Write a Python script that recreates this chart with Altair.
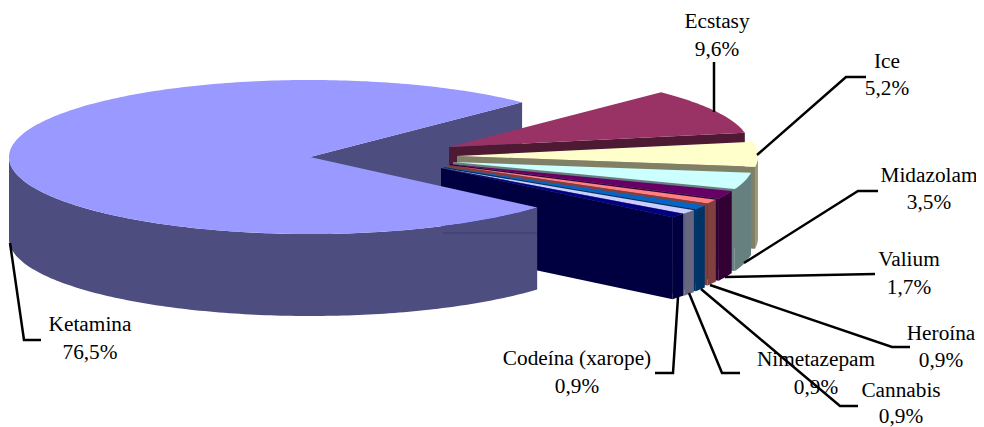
import math
import altair as alt

names = ["Ketamina", "Ecstasy", "Ice", "Midazolam", "Valium", "Heroína", "Cannabis", "Nimetazepam", "Codeína (xarope)"]
shares = [76.5, 9.6, 5.2, 3.5, 1.7, 0.9, 0.9, 0.9, 0.9]
labels = ["76,5%", "9,6%", "5,2%", "3,5%", "1,7%", "0,9%", "0,9%", "0,9%", "0,9%"]
top_colors = ["#9999FF", "#993366", "#FFFFCC", "#CCFFFF", "#660066", "#FF8080", "#0066CC", "#CCCCFF", "#000080"]
side_colors = ["#4D4D80", "#4D1933", "#808066", "#668080", "#330033", "#804040", "#003366", "#666680", "#000040"]
rim_colors = ["#4D4D80", "#4D1933", "#9C9878", "#668080", "#330033", "#804040", "#003366", "#666680", "#000040"]

# layout of the exploded 3-D pie (page pixels)
RX, RY, DEPTH = 301, 77, 82
CENTRE = (310, 157)
APEX = [CENTRE, (449, 147), (457, 156), (453, 162), (450, 164), (447, 165), (444, 167), (442, 168), (441, 168)]
START = 45.2
KET_END = -41

label_pos = [(90, 325, 353), (717, 22, 50), (887, 62, 89), (929, 176, 203), (909, 260, 288),
             (941, 334, 361), (901, 391, 417), (816, 360, 388), (577, 359, 387)]
leaders = [
    [(10, 243), (24, 340), (41, 340)],
    [(714, 112), (714, 62)],
    [(757, 155), (846, 77), (866, 77)],
    [(744, 263), (858, 191), (878, 191)],
    [(725, 277), (875, 274)],
    [(710, 285), (892, 347), (910, 347)],
    [(701, 289), (840, 406), (858, 406)],
    [(689, 293), (722, 373), (740, 373)],
    [(678, 297), (673, 373), (655, 373)],
]


def pt(apex, deg):
    a = math.radians(deg)
    return (apex[0] + RX * math.cos(a), apex[1] - RY * math.sin(a))


def arc(apex, a0, a1):
    n = max(2, int(abs(a1 - a0)) + 2)
    return [pt(apex, a0 + (a1 - a0) * i / (n - 1)) for i in range(n)]


def down(points):
    return [(x, y + DEPTH) for x, y in points]


def feature(points, fill):
    ring = [list(p) for p in points] + [list(points[0])]
    return {"type": "Feature", "properties": {"fill": fill},
            "geometry": {"type": "Polygon", "coordinates": [ring]}}


features = []
# far cut face of the big slice
a = CENTRE
tip = pt(a, START)
features.append(feature([a, tip, (tip[0], tip[1] + DEPTH), (a[0], a[1] + DEPTH)], side_colors[0]))

# small slices, back to front
total = sum(shares)
cursor = START
for i in range(1, len(names)):
    a0 = cursor
    a1 = cursor - shares[i] / total * 360
    cursor = a1
    ap = APEX[i]
    lo = pt(ap, a1)
    if a1 < 0:
        rim = arc(ap, min(a0, 0), a1)
        features.append(feature(rim + down(rim)[::-1], rim_colors[i]))
    features.append(feature([ap, lo, (lo[0], lo[1] + DEPTH), (ap[0], ap[1] + DEPTH)], side_colors[i]))
    features.append(feature([ap] + arc(ap, a0, a1), top_colors[i]))

# big slice: outer wall and top
wall = arc(a, 180, 360 + KET_END)
features.append(feature(wall + down(wall)[::-1], side_colors[0]))
features.append(feature([a] + arc(a, START, 360 + KET_END), top_colors[0]))

W, H = 968, 419
pie = alt.Chart(alt.Data(values=features)).mark_geoshape(strokeWidth=0).encode(
    fill=alt.Fill("properties.fill:N", scale=None, legend=None)
).project(type="identity", scale=1, translate=[-8, -8])

xs = alt.Scale(domain=[8, 8 + W], range=[0, W])
ys = alt.Scale(domain=[8, 8 + H], range=[0, H])

seam = alt.Chart(alt.Data(values=[{"x": 443, "y": 233}, {"x": 537, "y": 233}])).mark_line(
    color="#3C3C70", strokeWidth=1
).encode(x=alt.X("x:Q", scale=xs, axis=None), y=alt.Y("y:Q", scale=ys, axis=None))

line_rows = []
for i, path in enumerate(leaders):
    for j, (x, y) in enumerate(path):
        line_rows.append({"id": names[i], "k": j, "x": x, "y": y})
lines = alt.Chart(alt.Data(values=line_rows)).mark_line(color="black", strokeWidth=2.5).encode(
    x=alt.X("x:Q", scale=xs, axis=None),
    y=alt.Y("y:Q", scale=ys, axis=None),
    detail="id:N",
    order="k:Q",
)

text_rows = []
for n, l, (x, y1, y2) in zip(names, labels, label_pos):
    text_rows.append({"t": n, "x": x, "y": y1})
    text_rows.append({"t": l, "x": x, "y": y2})
texts = alt.Chart(alt.Data(values=text_rows)).mark_text(
    font="Liberation Serif", fontSize=21.3, color="black", baseline="middle", align="center"
).encode(
    x=alt.X("x:Q", scale=xs, axis=None),
    y=alt.Y("y:Q", scale=ys, axis=None),
    text="t:N",
)

chart = alt.layer(pie, seam, lines, texts).properties(
    width=W, height=H, padding=0, autosize=alt.AutoSizeParams(type="none"),
    background="white"
).configure_view(stroke=None)

chart.save("out.html", embed_options={"renderer": "svg", "actions": False})
